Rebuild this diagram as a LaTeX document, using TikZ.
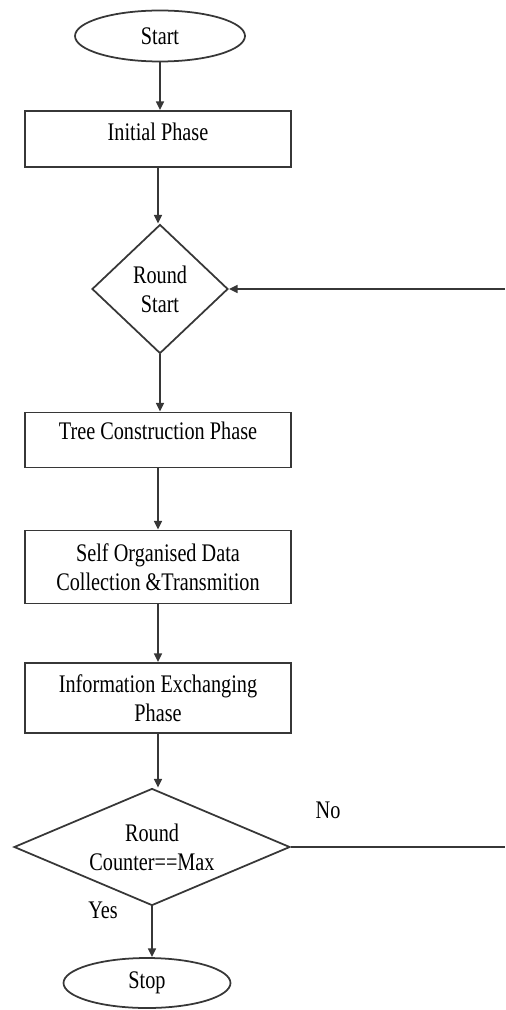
\documentclass[tikz,border=0pt]{standalone}
\usepackage{fontspec}
\setmainfont{Liberation Serif}[FakeStretch=0.8]
\usetikzlibrary{arrows.meta,shapes.geometric}
\definecolor{ink}{RGB}{55,55,55}
\tikzset{
  term/.style={draw=ink,ellipse,line width=1pt,inner sep=0pt,
    minimum width=3.4cm,minimum height=1.02cm},
  phase/.style={draw=ink,line width=1pt,inner sep=0pt,align=center,
    minimum width=5.32cm},
  test/.style={draw=ink,diamond,line width=1pt,inner sep=0pt,align=center},
  arr/.style={-{Triangle[length=5pt,width=4.5pt]},line width=1pt,ink},
  link/.style={line width=1pt,ink},
  tag/.style={inner sep=0pt},
}

\begin{document}
\begin{tikzpicture}[x=0.02cm,y=-0.02cm,
  every node/.append style={font=\fontsize{14.4}{16.5}\selectfont}]
  \useasboundingbox (0,0) rectangle (505,1010);

  % main column
  \node[term] (start) at (160,36) {Start};
  \node[phase,minimum height=1.12cm,text depth=8pt] (init) at (158,139) {Initial Phase};
  \node[test,minimum width=2.72cm,minimum height=2.58cm] (rstart) at (160,289) {Round\\Start};
  \node[phase,minimum height=1.1cm,text depth=11pt] (tree) at (158,440) {Tree Construction Phase};
  \node[phase,minimum height=1.46cm] (self) at (158,567)
    {Self Organised Data\\Collection \&Transmition};
  \node[phase,minimum height=1.4cm] (info) at (158,698)
    {Information Exchanging\\Phase};
  \node[test,aspect=2.36,minimum width=5.52cm,minimum height=2.34cm] (rmax) at (152,847)
    {Round\\Counter==Max};
  \node[term,minimum width=3.34cm,minimum height=1cm] (stop) at (147,983) {Stop};

  \node[tag] (no) at (328,810) {No};
  \node[tag] (yes) at (103,910) {Yes};

  % loop back ends
  \coordinate (backlo) at (505,847);
  \coordinate (backhi) at (505,289);

  \draw[arr] (start.south) -- (start.south |- init.north);
  \draw[arr] (init.south) -- (init.south |- rstart.north);
  \draw[arr] (rstart.south) -- (rstart.south |- tree.north);
  \draw[arr] (tree.south) -- (tree.south |- self.north);
  \draw[arr] (self.south) -- (self.south |- info.north);
  \draw[arr] (info.south) -- (info.south |- rmax.north);
  \draw[arr] (rmax.south) -- (rmax.south |- stop.north);
  \draw[link] (rmax.east) -- (backlo);
  \draw[arr] (backhi) -- (rstart.east);
\end{tikzpicture}
\end{document}
